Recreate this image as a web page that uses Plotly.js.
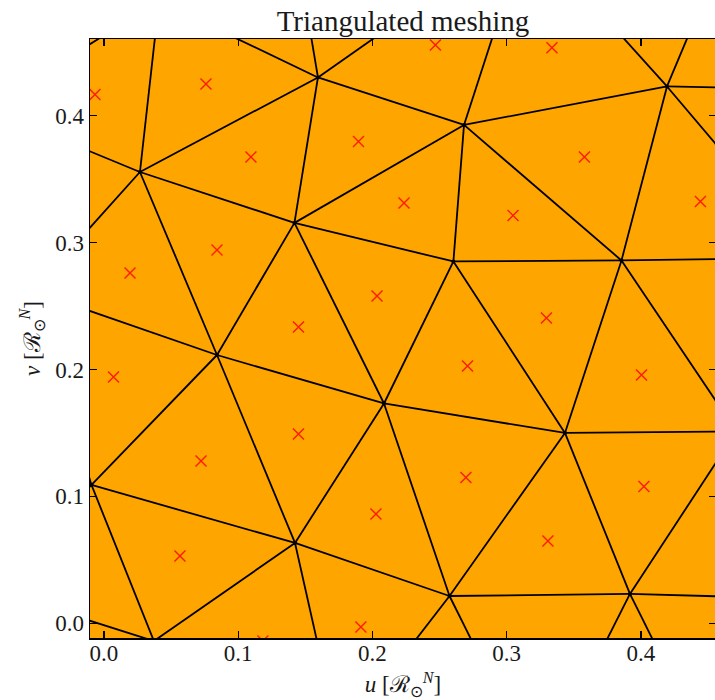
<!DOCTYPE html>
<html>
<head>
<meta charset="utf-8">
<script src="https://cdn.plot.ly/plotly-3.0.1.min.js"></script>
<style>
  html, body { margin: 0; padding: 0; overflow: hidden; background: #ffffff; }
</style>
</head>
<body>
<div id="chart"></div>
<script>
// Mesh nodes (u, v). The first 14 lie inside the window; the rest sit just
// outside so that the edges leaving the frame keep their true directions.
const nodeU = [0.0268, 0.1594, 0.1419, 0.2682, 0.4194, 0.2603, 0.3855, 0.0842, 0.2086, 0.3434,
               -0.0093, 0.1423, 0.2574, 0.3918,
               -0.0879, 0.0410, 0.1460, 0.3151, 0.4589, 0.5184, 0.5274, 0.4711, 0.5557,
               -0.0529, -0.0849, 0.0372, 0.1751, 0.3237, 0.4387];
const nodeV = [0.3556, 0.4301, 0.3155, 0.3927, 0.4230, 0.2851, 0.2859, 0.2114, 0.1732, 0.1500,
               0.1090, 0.0633, 0.0215, 0.0231,
               0.4057, 0.4900, 0.5148, 0.5456, 0.5227, 0.4210, 0.2879, 0.1511, 0.0184,
               0.2616, 0.0270, -0.0140, -0.0912, -0.1195, -0.0762];

// Triangles as three node-index lists.
const triA = [14, 15, 15, 16, 0, 1, 1, 3, 17, 4, 4, 3, 4, 2, 3, 6, 5, 6, 14, 0, 0,
              2, 2, 5, 23, 7, 7, 8, 8, 9, 9, 13, 23, 10, 10, 11, 11, 12, 12, 13, 13];
const triB = [15, 0, 1, 1, 1, 2, 3, 17, 4, 18, 19, 4, 6, 3, 5, 20, 6, 9, 0, 2, 7,
              7, 5, 8, 7, 10, 8, 11, 9, 12, 13, 21, 10, 24, 11, 25, 12, 26, 13, 27, 28];
const triC = [0, 1, 16, 17, 2, 3, 17, 4, 18, 19, 20, 6, 20, 5, 6, 21, 9, 21, 23, 7, 23,
              8, 8, 9, 10, 11, 11, 12, 12, 13, 21, 22, 24, 25, 25, 26, 26, 27, 27, 28, 22];

// Triangle centres marked with crosses.
const centreU = [-0.0067, 0.0760, 0.1095, 0.1896, 0.2469, 0.3337, 0.3579, 0.4443, 0.2235,
                 0.3047, 0.0194, 0.0842, 0.2034, 0.1449, 0.3296, 0.2708, 0.0071, 0.4004,
                 0.1449, 0.0723, 0.2696, 0.2026, 0.3307, 0.4022, 0.0566, 0.1914, 0.1184];
const centreV = [0.4167, 0.4250, 0.3675, 0.3797, 0.4557, 0.4535, 0.3675, 0.3324, 0.3312,
                 0.3214, 0.2760, 0.2942, 0.2579, 0.2335, 0.2406, 0.2028, 0.1941, 0.1957,
                 0.1492, 0.1279, 0.1149, 0.0861, 0.0649, 0.1078, 0.0530, -0.0029, -0.0139];

const tickVals = [0.0, 0.1, 0.2, 0.3, 0.4];
const tickText = ['0.0', '0.1', '0.2', '0.3', '0.4'];

// Collect every unique triangle edge into one broken polyline.
const edgeX = [], edgeY = [];
const seen = new Set();
function addEdge(p, q) {
  const key = Math.min(p, q) + '-' + Math.max(p, q);
  if (seen.has(key)) return;
  seen.add(key);
  edgeX.push(nodeU[p], nodeU[q], null);
  edgeY.push(nodeV[p], nodeV[q], null);
}
for (let t = 0; t < triA.length; t++) {
  addEdge(triA[t], triB[t]);
  addEdge(triB[t], triC[t]);
  addEdge(triC[t], triA[t]);
}

const serif = 'Liberation Serif, Times New Roman, serif';
const ink = '#1a1a1a';

const traces = [
  {
    x: edgeX, y: edgeY, type: 'scatter', mode: 'lines',
    line: { color: '#000000', width: 1.8 },
    hoverinfo: 'skip', showlegend: false
  },
  {
    x: nodeU, y: nodeV, type: 'scatter', mode: 'markers',
    marker: { color: '#000000', size: 4 },
    hoverinfo: 'skip', showlegend: false
  },
  {
    x: centreU, y: centreV, type: 'scatter', mode: 'markers',
    marker: { symbol: 'x-thin', size: 11, color: '#ff1a00',
              line: { color: '#ff1a00', width: 1.4 } },
    showlegend: false
  }
];

const axisCommon = {
  showgrid: false, zeroline: false,
  showline: true, linecolor: '#000000', linewidth: 1.5,
  mirror: 'ticks', ticks: 'inside', ticklen: 7, tickwidth: 1.3, tickcolor: '#000000',
  tickvals: tickVals, ticktext: tickText,
  tickfont: { family: serif, size: 23, color: ink }
};

const layout = {
  width: 718, height: 700,
  margin: { l: 90, r: 2, t: 39, b: 62 },
  paper_bgcolor: '#ffffff',
  plot_bgcolor: '#ffa500',
  title: {
    text: 'Triangulated meshing',
    font: { family: serif, size: 29, color: ink },
    x: 0.5, xref: 'paper', xanchor: 'center',
    y: 1, yref: 'paper', yanchor: 'bottom', pad: { b: 8 }
  },
  xaxis: Object.assign({}, axisCommon, {
    range: [-0.0104, 0.4559],
    ticklabelposition: 'outside',
    ticklabelstandoff: -6,
    title: { text: '<i>u</i> [ℛ<sub>⊙</sub><sup><i>N</i></sup>]',
             font: { family: serif, size: 23, color: ink }, standoff: 15 }
  }),
  yaxis: Object.assign({}, axisCommon, {
    range: [-0.0116, 0.4604],
    title: { text: '<i>v</i> [ℛ<sub>⊙</sub><sup><i>N</i></sup>]',
             font: { family: serif, size: 23, color: ink }, standoff: 8 }
  })
};

Plotly.newPlot('chart', traces, layout, { displayModeBar: false, staticPlot: true });
</script>
</body>
</html>
